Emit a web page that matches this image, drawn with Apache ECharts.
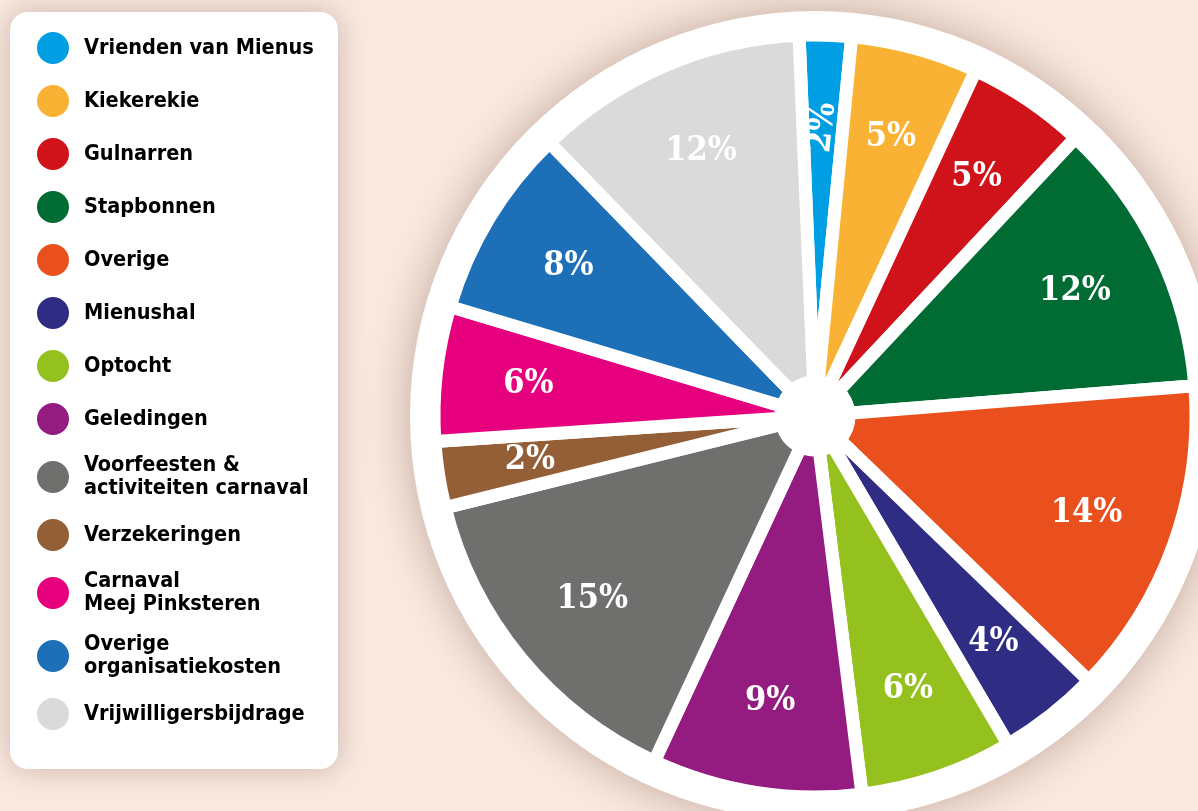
<!DOCTYPE html>
<html>
<head>
<meta charset="utf-8">
<style>
  html, body { margin: 0; padding: 0; background: #f9e9e1; }
  #chart { width: 1198px; height: 811px; }
</style>
<script src="https://cdn.jsdelivr.net/npm/echarts@6/dist/echarts.min.js"></script>
</head>
<body>
<div id="chart"></div>
<script>
// ---- data ----
const names = [
  'Vrienden van Mienus', 'Kiekerekie', 'Gulnarren', 'Stapbonnen', 'Overige',
  'Mienushal', 'Optocht', 'Geledingen', 'Voorfeesten & activiteiten carnaval',
  'Verzekeringen', 'Carnaval Meej Pinksteren', 'Overige organisatiekosten',
  'Vrijwilligersbijdrage'
];
const legendText = [
  'Vrienden van Mienus', 'Kiekerekie', 'Gulnarren', 'Stapbonnen', 'Overige',
  'Mienushal', 'Optocht', 'Geledingen', 'Voorfeesten &\nactiviteiten carnaval',
  'Verzekeringen', 'Carnaval\nMeej Pinksteren', 'Overige\norganisatiekosten',
  'Vrijwilligersbijdrage'
];
// slice shares as drawn (percent of the circle)
const shares = [2.2, 5.4, 5.05, 11.75, 13.5, 4.3, 6.5, 8.9, 14.2, 2.8, 5.7, 8.1, 11.6];
// printed percentage labels
const pctLabels = ['2%', '5%', '5%', '12%', '14%', '4%', '6%', '9%', '15%', '2%', '6%', '8%', '12%'];
const colors = [
  '#009fe3', '#f9b233', '#d0121a', '#016b34', '#e9501e',
  '#2e2c83', '#95c11f', '#941b80', '#6f6f6e',
  '#945e37', '#e6007e', '#1d70b7', '#dadada'
];

const CENTER = [815, 416];
const legendFont = "'DejaVu Sans Condensed', 'Liberation Sans Narrow', sans-serif";
const labelFont = "'DejaVu Serif Condensed', 'DejaVu Serif', serif";

const sliceData = names.map((n, i) => ({
  name: n, value: shares[i], itemStyle: { color: colors[i] }
}));
const labelData = names.map((n, i) => ({
  name: n, value: shares[i],
  label: { formatter: pctLabels[i], rotate: i === 0 ? 84 : 0 }
}));

const chart = echarts.init(document.getElementById('chart'), null, { renderer: 'canvas' });
chart.setOption({
  animation: false,
  backgroundColor: '#f9e9e1',
  color: colors,
  legend: {
    orient: 'vertical',
    left: 10, top: 12,
    data: names,
    icon: 'circle',
    itemWidth: 34, itemHeight: 34, itemGap: 17,
    padding: [18, 24, 37, 25],
    backgroundColor: '#ffffff',
    borderRadius: 18,
    shadowBlur: 30,
    shadowColor: 'rgba(120,80,60,0.35)',
    selectedMode: false,
    formatter: (name) => legendText[names.indexOf(name)],
    textStyle: {
      fontFamily: legendFont, fontSize: 21.5, fontWeight: 'bold', color: '#000',
      lineHeight: 23, padding: [0, 0, 0, 9], width: 230, overflow: 'none'
    }
  },
  series: [
    {
      type: 'pie', z: 2,
      center: CENTER, radius: [34, 381],
      startAngle: 92.4, clockwise: true,
      silent: true,
      label: { show: false }, labelLine: { show: false },
      itemStyle: { borderColor: '#ffffff', borderWidth: 13 },
      data: sliceData
    },
    {
      type: 'pie', z: 1,
      center: CENTER, radius: [0, 405],
      silent: true,
      label: { show: false }, labelLine: { show: false },
      itemStyle: {
        color: '#ffffff',
        shadowBlur: 45, shadowColor: 'rgba(110,70,50,0.4)'
      },
      data: [{ name: 'achtergrond', value: 1 }]
    },
    {
      type: 'pie', z: 3,
      center: CENTER, radius: [190, 381],
      startAngle: 92.4, clockwise: true,
      silent: true,
      itemStyle: { color: 'rgba(0,0,0,0)' },
      labelLine: { show: false },
      label: {
        show: true, position: 'inside',
        color: '#ffffff', fontFamily: labelFont, fontWeight: 'bold', fontSize: 34
      },
      data: labelData
    }
  ]
});
</script>
</body>
</html>
